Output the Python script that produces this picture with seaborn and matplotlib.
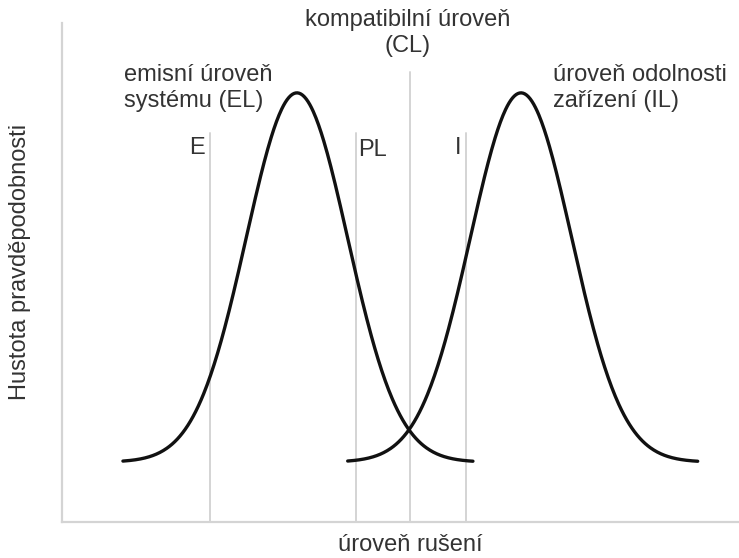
import numpy as np
import pandas as pd
import matplotlib
matplotlib.use("Agg")
import matplotlib.pyplot as plt
import seaborn as sns

# Probability-density curves: emission level (EL) and immunity level (IL)
curve_names = ["EL", "IL"]
curve_means = [34.7, 67.8]
curve_sds = [7.5, 7.5]
curve_starts = [9.0, 42.2]
curve_ends = [60.7, 93.9]
curve_peak = 86.0
curve_floor = 12.0

# Vertical reference levels
marker_labels = ["E", "PL", "CL", "I"]
marker_x = [21.9, 43.4, 51.4, 59.7]
marker_top = [78.0, 78.0, 90.2, 78.0]

sns.set_style("white")
plt.rcParams["font.family"] = ["Liberation Sans", "DejaVu Sans"]

fig = plt.figure(figsize=(7.39, 5.58), dpi=100)
ax = fig.add_axes([62 / 739, 36 / 558, 677 / 739, 499 / 558])

frames = []
for name, mu, sd, x0, x1 in zip(curve_names, curve_means, curve_sds, curve_starts, curve_ends):
    x = np.linspace(x0, x1, 400)
    y = curve_floor + (curve_peak - curve_floor) * np.exp(-0.5 * ((x - mu) / sd) ** 2)
    frames.append(pd.DataFrame({"x": x, "y": y, "curve": name}))
df = pd.concat(frames, ignore_index=True)

line_col = "#d4d4d4"
for xv, top in zip(marker_x, marker_top):
    ax.plot([xv, xv], [0, top], color=line_col, lw=1.4, zorder=1)

sns.lineplot(data=df, x="x", y="y", units="curve", estimator=None,
             color="#111111", lw=2.4, ax=ax, legend=False, zorder=3,
             solid_capstyle="round")

ax.set_xlim(0, 100)
ax.set_ylim(0, 100)
ax.set_xticks([])
ax.set_yticks([])
ax.set_xlabel("")
ax.set_ylabel("")
for side in ["top", "right"]:
    ax.spines[side].set_visible(False)
for side in ["left", "bottom"]:
    ax.spines[side].set_color(line_col)
    ax.spines[side].set_linewidth(1.6)

txt = dict(color="#333333", fontsize=17, clip_on=False)
ax.text(51.1, 98.0, "kompatibilní úroveň\n(CL)", ha="center", va="center",
        linespacing=1.22, **txt)
ax.text(9.2, 87.0, "emisní úroveň\nsystému (EL)", ha="left", va="center",
        linespacing=1.22, **txt)
ax.text(72.5, 87.0, "úroveň odolnosti\nzařízení (IL)", ha="left", va="center",
        linespacing=1.22, **txt)
ax.text(19.9, 75.0, "E", ha="center", va="center", **txt)
ax.text(45.8, 74.5, "PL", ha="center", va="center", **txt)
ax.text(58.5, 75.0, "I", ha="center", va="center", **txt)

fig.text(410 / 739, 1 - 545 / 558, "úroveň rušení", ha="center", va="center",
         color="#333333", fontsize=17)
fig.text(20 / 739, 1 - 262 / 558, "Hustota pravděpodobnosti", ha="center",
         va="center", rotation=90, color="#333333", fontsize=17)

fig.savefig("out.png", dpi=100)
